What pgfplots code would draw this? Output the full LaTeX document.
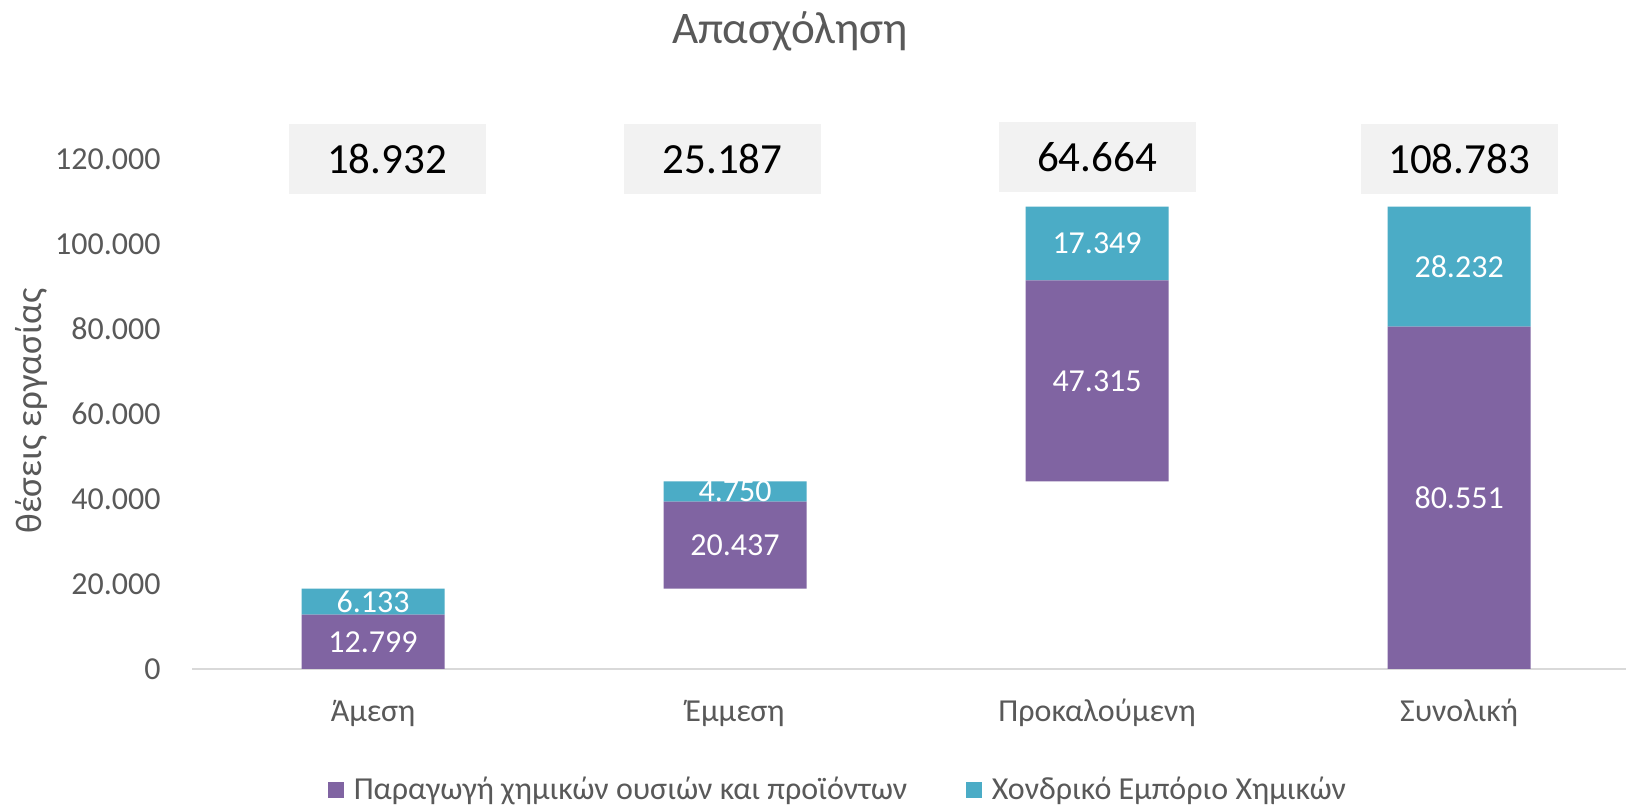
\documentclass[border=0pt]{standalone}
\usepackage{fontspec}
\setmainfont{Carlito}
\usepackage{pgfplots}
\pgfplotsset{compat=1.18}
\definecolor{cpurple}{HTML}{8064A2}
\definecolor{cteal}{HTML}{4BACC6}
\definecolor{cgraytxt}{HTML}{595959}
\definecolor{cbox}{HTML}{F2F2F2}
\definecolor{caxis}{HTML}{D9D9D9}
\tikzset{bl/.style={text=white, font=\fontsize{16}{19}\selectfont, anchor=center, inner sep=0pt},
  tb/.style={fill=cbox, text=black, font=\fontsize{21.5}{25}\selectfont, minimum width=98.5pt, minimum height=35.25pt, inner sep=0pt, anchor=center}}
\begin{document}
\begin{tikzpicture}
\fill[white] (0,0) rectangle (813pt,403.5pt);
\path[use as bounding box] (0,0) rectangle (813pt,403.5pt);
\begin{axis}[
  at={(96pt,69pt)}, anchor=south west,
  scale only axis, width=717pt, height=276.25pt,
  ybar stacked, bar width=71.5pt,
  xmin=-0.5, xmax=3.461, ymin=0, ymax=130000,
  clip=false, scaled y ticks=false,
  axis lines*=left,
  x axis line style={draw=caxis, line width=1pt},
  y axis line style={draw=none},
  major tick length=0pt,
  xtick={0,1,2,3},
  xticklabels={Άμεση,Έμμεση,Προκαλούμενη,Συνολική},
  ytick={0,20000,40000,60000,80000,100000,120000},
  yticklabels={0,20.000,40.000,60.000,80.000,100.000,120.000},
  ticklabel style={font=\fontsize{16}{19}\selectfont, text=cgraytxt},
  xticklabel style={anchor=center, yshift=-22pt},
  yticklabel style={anchor=east, inner sep=0pt, xshift=-15.5pt},
  legend style={at={(0.4513,-0.219)}, anchor=center, draw=none, fill=none,
    font=\fontsize{16}{19}\selectfont, text=cgraytxt,
    /tikz/every odd column/.append style={column sep=3pt},
    /tikz/every even column/.append style={column sep=27.5pt}},
  legend columns=2, legend cell align=left,
  legend image code/.code={\fill[#1] (0pt,-3.9pt) rectangle (7.8pt,3.9pt);},
]
\addplot[fill=none, draw=none, forget plot] coordinates {(0,0) (1,18932) (2,44119) (3,0)};
\addplot[fill=cpurple, draw=none] coordinates {(0,12799) (1,20437) (2,47315) (3,80551)};
\addplot[fill=cteal, draw=none] coordinates {(0,6133) (1,4750) (2,17349) (3,28232)};
\legend{Παραγωγή χημικών ουσιών και προϊόντων, Χονδρικό Εμπόριο Χημικών}

\coordinate (a1) at (axis cs:0,6399.5);
\coordinate (a2) at (axis cs:0,15865.5);
\coordinate (b1) at (axis cs:1,29150.5);
\coordinate (b2) at (axis cs:1,41744);
\coordinate (c1) at (axis cs:2,67776.5);
\coordinate (c2) at (axis cs:2,100108.5);
\coordinate (d1) at (axis cs:3,40275.5);
\coordinate (d2) at (axis cs:3,94667);
\coordinate (t0) at (axis cs:0,120000);
\coordinate (t1) at (axis cs:1,120000);
\coordinate (t2) at (axis cs:2,120500);
\coordinate (t3) at (axis cs:3,120000);
\end{axis}
\node[bl] at (a1) {12.799};
\node[bl] at (a2) {6.133};
\node[bl] at (b1) {20.437};
\node[bl] at (b2) {4.750};
\node[bl] at (c1) {47.315};
\node[bl] at (c2) {17.349};
\node[bl] at (d1) {80.551};
\node[bl] at (d2) {28.232};
\node[tb, xshift=7pt] at (t0) {18.932};
\node[tb, xshift=-6.2pt] at (t1) {25.187};
\node[tb] at (t2) {64.664};
\node[tb] at (t3) {108.783};
\node[font=\fontsize{22.6}{27}\selectfont, text=cgraytxt] at (395pt,388pt) {Απασχόληση};
\node[font=\fontsize{18.5}{22}\selectfont, text=cgraytxt, rotate=90] at (15.5pt,198pt) {θέσεις εργασίας};
\end{tikzpicture}
\end{document}
